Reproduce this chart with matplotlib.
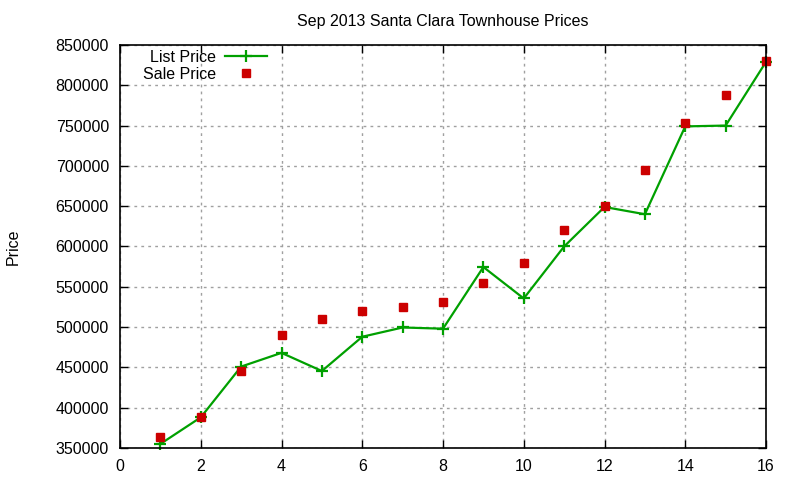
import numpy as np
import matplotlib
matplotlib.use('Agg')
import matplotlib.pyplot as plt

# Santa Clara townhouse sales, Sep 2013
sale_no = [1, 2, 3, 4, 5, 6, 7, 8, 9, 10, 11, 12, 13, 14, 15, 16]
list_price = [355000, 388000, 451000, 468000, 445500, 488000, 499500, 498000,
              574500, 535500, 600000, 649000, 640000, 749000, 750000, 829000]
sale_price = [364000, 388500, 445000, 490000, 509500, 519500, 525000, 531000,
              555000, 580000, 620000, 650000, 695000, 753000, 788000, 830000]

plt.rcParams['font.family'] = ['Liberation Sans', 'DejaVu Sans']
plt.rcParams['font.size'] = 11.5

fig = plt.figure(figsize=(8, 4.8), dpi=100)
ax = fig.add_axes([0.15, 0.0667, 0.8075, 0.8396])

ax.plot(sale_no, list_price, color='#00a000', lw=1.6, marker='+', ms=8, mew=1.6,
        label='List Price', clip_on=False)
ax.plot(sale_no, sale_price, ls='none', color='#cc0000', marker='s', ms=5.5,
        label='Sale Price', clip_on=False)

ax.set_xlim(0, 16)
ax.set_ylim(350000, 850000)
ax.set_xticks(np.arange(0, 17, 2))
ax.set_yticks(np.arange(350000, 850001, 50000))
ax.grid(True, color='#a0a0a0', ls=(0, (2, 3)), lw=1)
ax.tick_params(direction='in', top=True, right=True, length=6, width=1, pad=8)
for s in ax.spines.values():
    s.set_linewidth(1.2)

ax.set_title('Sep 2013 Santa Clara Townhouse Prices', fontsize=11.5, pad=14)
ax.set_ylabel('Price', labelpad=25)

leg = ax.legend(loc='upper left', bbox_to_anchor=(0.02, 1.012), frameon=False,
                markerfirst=False, handlelength=2.6, handletextpad=0.6,
                labelspacing=0.12, borderaxespad=0.2, numpoints=1)

fig.savefig('out.png', dpi=100)
